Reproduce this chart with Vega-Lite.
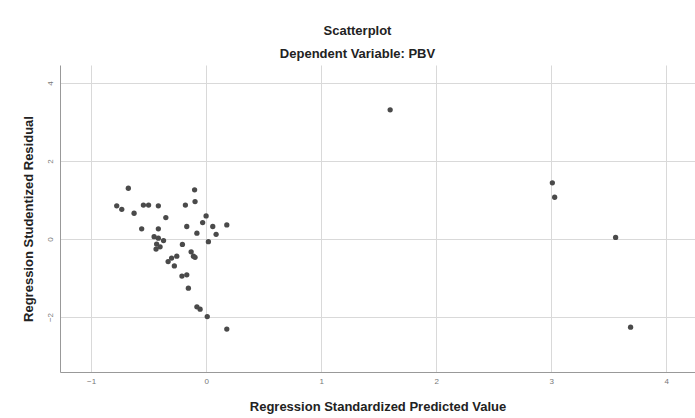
{
  "$schema": "https://vega.github.io/schema/vega-lite/v6.json",
  "autosize": "none",
  "width": 635,
  "height": 307,
  "padding": {"left": 60, "top": 65, "right": 0, "bottom": 46},
  "background": "white",
  "title": {
    "text": "Scatterplot",
    "subtitle": "Dependent Variable: PBV",
    "anchor": "middle",
    "frame": "group",
    "dx": -20,
    "offset": 4,
    "font": "Liberation Sans",
    "fontSize": 13,
    "fontWeight": "bold",
    "color": "#222",
    "subtitleFont": "Liberation Sans",
    "subtitleFontSize": 13,
    "subtitleFontWeight": "bold",
    "subtitleColor": "#222",
    "subtitlePadding": 10
  },
  "data": {
    "values": [
      {"pred": -0.676, "resid": 1.30},
      {"pred": -0.777, "resid": 0.85},
      {"pred": -0.733, "resid": 0.76},
      {"pred": -0.626, "resid": 0.66},
      {"pred": -0.545, "resid": 0.87},
      {"pred": -0.50, "resid": 0.87},
      {"pred": -0.415, "resid": 0.85},
      {"pred": -0.35, "resid": 0.55},
      {"pred": -0.56, "resid": 0.26},
      {"pred": -0.415, "resid": 0.26},
      {"pred": -0.452, "resid": 0.06},
      {"pred": -0.415, "resid": 0.02},
      {"pred": -0.37, "resid": -0.04},
      {"pred": -0.43, "resid": -0.13},
      {"pred": -0.40, "resid": -0.20},
      {"pred": -0.435, "resid": -0.26},
      {"pred": -0.10, "resid": 1.26},
      {"pred": -0.18, "resid": 0.87},
      {"pred": -0.096, "resid": 0.96},
      {"pred": -0.168, "resid": 0.32},
      {"pred": -0.08, "resid": 0.15},
      {"pred": 0.0, "resid": 0.59},
      {"pred": -0.03, "resid": 0.42},
      {"pred": 0.058, "resid": 0.32},
      {"pred": 0.087, "resid": 0.12},
      {"pred": 0.18, "resid": 0.36},
      {"pred": 0.02, "resid": -0.07},
      {"pred": -0.206, "resid": -0.14},
      {"pred": -0.13, "resid": -0.33},
      {"pred": -0.11, "resid": -0.44},
      {"pred": -0.096, "resid": -0.47},
      {"pred": -0.255, "resid": -0.44},
      {"pred": -0.30, "resid": -0.49},
      {"pred": -0.33, "resid": -0.58},
      {"pred": -0.276, "resid": -0.69},
      {"pred": -0.21, "resid": -0.95},
      {"pred": -0.168, "resid": -0.92},
      {"pred": -0.154, "resid": -1.26},
      {"pred": -0.08, "resid": -1.74},
      {"pred": -0.052, "resid": -1.80},
      {"pred": 0.01, "resid": -1.99},
      {"pred": 0.18, "resid": -2.31},
      {"pred": 1.60, "resid": 3.31},
      {"pred": 3.01, "resid": 1.44},
      {"pred": 3.03, "resid": 1.07},
      {"pred": 3.56, "resid": 0.04},
      {"pred": 3.69, "resid": -2.26}
    ]
  },
  "mark": {"type": "circle", "size": 28, "color": "#4a4a4a", "opacity": 1},
  "encoding": {
    "x": {
      "field": "pred",
      "type": "quantitative",
      "title": "Regression Standardized Predicted Value",
      "scale": {"domain": [-1.27, 4.25], "nice": false, "zero": false},
      "axis": {
        "values": [-1, 0, 1, 2, 3, 4],
        "grid": true,
        "gridColor": "#d9d9d9",
        "domainColor": "#999",
        "ticks": false,
        "labelFont": "Liberation Sans",
        "labelFontSize": 8,
        "labelColor": "#777",
        "labelPadding": 5,
        "titleFont": "Liberation Sans",
        "titleFontSize": 13,
        "titleFontWeight": "bold",
        "titleColor": "#222",
        "titlePadding": 15
      }
    },
    "y": {
      "field": "resid",
      "type": "quantitative",
      "title": "Regression Studentized Residual",
      "scale": {"domain": [-3.41, 4.46], "nice": false, "zero": false},
      "axis": {
        "values": [-2, 0, 2, 4],
        "grid": true,
        "gridColor": "#d9d9d9",
        "domainColor": "#999",
        "ticks": false,
        "labelFont": "Liberation Sans",
        "labelFontSize": 8,
        "labelColor": "#777",
        "labelAngle": -90,
        "labelAlign": "center",
        "labelBaseline": "bottom",
        "labelPadding": 6,
        "titleFont": "Liberation Sans",
        "titleFontSize": 13,
        "titleFontWeight": "bold",
        "titleColor": "#222",
        "titlePadding": 11
      }
    }
  },
  "config": {"view": {"stroke": null}}
}
